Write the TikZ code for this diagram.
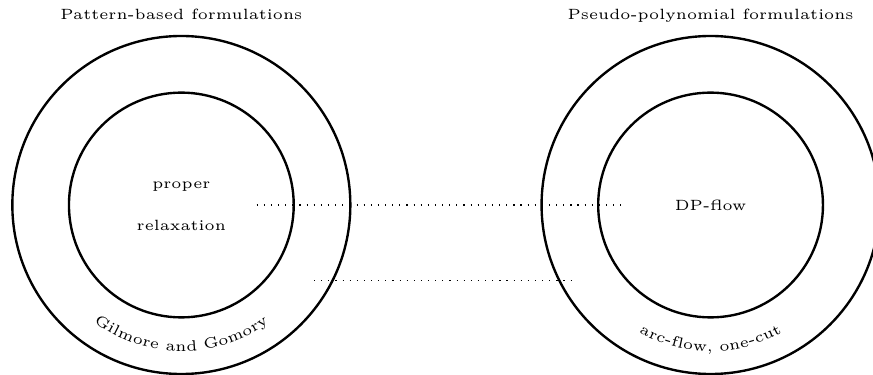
\documentclass[tikz,border=0pt]{standalone}
\usepackage{tikz}
\usetikzlibrary{positioning}
\usetikzlibrary{decorations.text}

\begin{document}
\begin{tikzpicture}
\tikzset{ring/.style={circle,draw,thick,inner sep=0pt}}
\useasboundingbox (-2.146,-2) rectangle (8.185,2.426);
\node[ring,minimum size=4cm] (pbOuter) at (0,0) {};
\node[ring,minimum size=2.66cm] (pbInner) at (0,0) {};
\node[ring,minimum size=4cm] (ppOuter) at (6.263,0) {};
\node[ring,minimum size=2.66cm] (ppInner) at (6.263,0) {};

\node[font=\tiny,anchor=base] (pbTitle) at ([yshift=0.18cm]pbOuter.north) {Pattern-based formulations};
\node[font=\tiny,anchor=base] (ppTitle) at ([yshift=0.18cm]ppOuter.north) {Pseudo-polynomial formulations};

\node[font=\tiny,anchor=base] (propNode) at ([yshift=0.19cm]pbInner.center) {proper};
\node[font=\tiny,anchor=base] (relaxNode) at ([yshift=-0.30cm]pbInner.center) {relaxation};
\node[font=\tiny] (dpNode) at (ppInner.center) {DP-flow};

\path[decorate,decoration={text along path,text align=center,text={|\tiny|Gilmore and Gomory}}]
  ([shift={(200:1.73)}]pbOuter.center) arc[start angle=200,end angle=340,radius=1.73];
\path[decorate,decoration={text along path,text align=center,text={|\tiny|arc-flow, one-cut}}]
  ([shift={(200:1.73)}]ppOuter.center) arc[start angle=200,end angle=340,radius=1.73];

\coordinate (upL) at ([xshift=0.892cm]pbInner.center);
\coordinate (upR) at ([xshift=-0.985cm]ppInner.center);
\coordinate (loL) at ([shift={(1.57,-0.895)}]pbOuter.center);
\coordinate (loR) at ([shift={(-1.58,-0.895)}]ppOuter.center);
\draw[dotted] (upL) -- (upR);
\draw[dotted] (loL) -- (loR);

\end{tikzpicture}
\end{document}
